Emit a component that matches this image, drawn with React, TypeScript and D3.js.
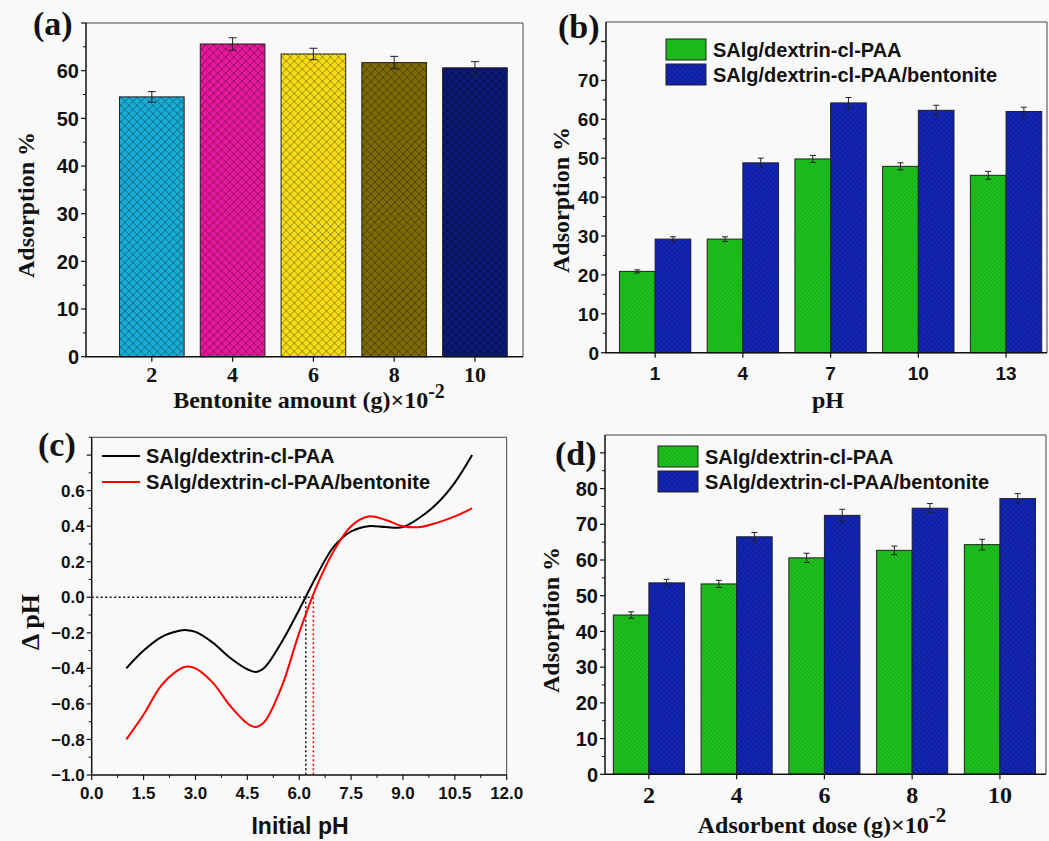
import React from "react";
import * as d3 from "d3";

const SANS = "'Liberation Sans', Arial, sans-serif";
const SERIF = "'Liberation Serif', 'Times New Roman', serif";

// (a) bentonite amount
const amounts = [2, 4, 6, 8, 10];
const amountAdsorption = [54.5, 65.6, 63.5, 61.7, 60.6];
const amountError = [1.1, 1.3, 1.2, 1.3, 1.3];
const amountColors = ["#19acd6", "#e8189c", "#f8dc14", "#7c6b06", "#0b1a74"];

// (b) pH
const phLevels = [1, 4, 7, 10, 13];
const phPlain = [20.9, 29.2, 49.8, 47.9, 45.6];
const phPlainError = [0.4, 0.6, 0.9, 0.9, 1.0];
const phBento = [29.2, 48.8, 64.2, 62.3, 62.0];
const phBentoError = [0.6, 1.2, 1.4, 1.3, 1.1];

// (c) pH drift / pzc
const drift = [1, 1.5, 2, 2.5, 2.75, 3, 3.5, 4, 4.5, 4.75, 5, 5.5, 6, 6.5, 7, 7.5, 8, 8.5, 9, 9.5, 10, 10.5, 11];
const driftPlain = [-0.4, -0.3, -0.225, -0.19, -0.185, -0.195, -0.255, -0.34, -0.405, -0.42, -0.395, -0.25, -0.07, 0.12, 0.285, 0.37, 0.4, 0.395, 0.395, 0.45, 0.53, 0.645, 0.8];
const driftBento = [-0.8, -0.66, -0.5, -0.41, -0.39, -0.4, -0.48, -0.61, -0.71, -0.73, -0.7, -0.5, -0.2, 0.06, 0.26, 0.4, 0.455, 0.435, 0.4, 0.395, 0.42, 0.455, 0.5];
const pzc = [6.19, 6.41];

// (d) adsorbent dose
const doses = [2, 4, 6, 8, 10];
const dosePlain = [44.6, 53.3, 60.6, 62.7, 64.3];
const dosePlainError = [0.9, 1.0, 1.3, 1.2, 1.5];
const doseBento = [53.6, 66.5, 72.5, 74.5, 77.2];
const doseBentoError = [1.0, 1.2, 1.7, 1.3, 1.4];

const seriesNames = ["SAlg/dextrin-cl-PAA", "SAlg/dextrin-cl-PAA/bentonite"];
const GREEN = "#1ec21e";
const BLUE = "#1426b6";

type Lin = d3.ScaleLinear<number, number>;

const Frame = ({ x, y }: { x: Lin; y: Lin }) => {
  const [l, r] = x.range();
  const [b, t] = y.range();
  return (
    <g>
      <path d={`M${l},${t}H${r}V${b}`} fill="none" stroke="#444" strokeWidth={1} />
      <path d={`M${l},${t}V${b}H${r}`} fill="none" stroke="#111" strokeWidth={1.5} />
    </g>
  );
};

const YTicks = ({ x, y, major, minor, labelled, fmt, size = 18 }: any) => {
  const l = x.range()[0];
  return (
    <g>
      {minor.map((v: number) => (
        <line key={"m" + v} x1={l - 3} x2={l} y1={y(v)} y2={y(v)} stroke="#111" />
      ))}
      {major.map((v: number) => (
        <line key={"M" + v} x1={l - 5} x2={l} y1={y(v)} y2={y(v)} stroke="#111" strokeWidth={1.2} />
      ))}
      {labelled.map((v: number) => (
        <text key={"t" + v} x={l - 7} y={y(v) + size * 0.36} textAnchor="end"
          fontFamily={SANS} fontWeight="bold" fontSize={size} fill="#111">
          {fmt(v)}
        </text>
      ))}
    </g>
  );
};

const XTicks = ({ x, y, major, minor = [], fmt, font, size, dy }: any) => {
  const b = y.range()[0];
  return (
    <g>
      {minor.map((v: number) => (
        <line key={"m" + v} x1={x(v)} x2={x(v)} y1={b} y2={b + 3} stroke="#111" />
      ))}
      {major.map((v: number) => (
        <line key={"M" + v} x1={x(v)} x2={x(v)} y1={b} y2={b + 5} stroke="#111" strokeWidth={1.2} />
      ))}
      {major.map((v: number) => (
        <text key={"t" + v} x={x(v)} y={b + dy} textAnchor="middle"
          fontFamily={font} fontWeight="bold" fontSize={size} fill="#111">
          {fmt(v)}
        </text>
      ))}
    </g>
  );
};

const YTitle = ({ cx, cy, text, size = 24 }: any) => (
  <text transform={`translate(${cx},${cy}) rotate(-90)`} textAnchor="middle"
    fontFamily={SERIF} fontWeight="bold" fontSize={size} fill="#111" dominantBaseline="middle">
    {text}
  </text>
);

const PanelTag = ({ x, y, t }: any) => (
  <text x={x} y={y} fontFamily={SERIF} fontWeight="bold" fontSize={34} fill="#111">{t}</text>
);

const ErrBar = ({ cx, y0, y1, w = 4 }: any) => (
  <g stroke="#222" strokeWidth={1}>
    <line x1={cx} x2={cx} y1={y0} y2={y1} />
    <line x1={cx - w} x2={cx + w} y1={y0} y2={y0} />
    <line x1={cx - w} x2={cx + w} y1={y1} y2={y1} />
  </g>
);

const HatchBar = ({ x, y, w, h, color, pattern }: any) => (
  <g>
    <rect x={x} y={y} width={w} height={h} fill={color} />
    <rect x={x} y={y} width={w} height={h} fill={`url(#${pattern})`} stroke="#222" strokeWidth={1} />
  </g>
);

const Legend = ({ x, y, gap, pats }: any) => (
  <g>
    {seriesNames.map((n, i) => (
      <g key={n}>
        <HatchBar x={x} y={y + i * gap} w={40} h={21} color={i === 0 ? GREEN : BLUE} pattern={pats[i]} />
        <text x={x + 47} y={y + i * gap + 18} fontFamily={SANS} fontWeight="bold" fontSize={20} fill="#111">{n}</text>
      </g>
    ))}
  </g>
);

function PanelA() {
  const x = d3.scaleLinear().domain([0.37, 11.19]).range([86, 523]);
  const y = d3.scaleLinear().domain([0, 70]).range([356.7, 23]);
  const hw = 0.8;
  return (
    <g>
      {amounts.map((c, i) => (
        <g key={c}>
          <HatchBar x={x(c - hw)} y={y(amountAdsorption[i])} w={x(c + hw) - x(c - hw)}
            h={y(0) - y(amountAdsorption[i])} color={amountColors[i]} pattern="crossA" />
          <ErrBar cx={x(c)} y0={y(amountAdsorption[i] - amountError[i])} y1={y(amountAdsorption[i] + amountError[i])} />
        </g>
      ))}
      <Frame x={x} y={y} />
      <YTicks x={x} y={y} major={d3.range(0, 71, 10)} minor={d3.range(5, 70, 10)}
        labelled={d3.range(0, 61, 10)} fmt={(v: number) => v} size={20} />
      <XTicks x={x} y={y} major={amounts} fmt={(v: number) => v} font={SERIF} size={22} dy={25} />
      <YTitle cx={28} cy={205} text="Adsorption %" />
      <text x={309} y={408} textAnchor="middle" fontFamily={SERIF} fontWeight="bold" fontSize={24} fill="#111">
        Bentonite amount (g)×10<tspan dy={-10} fontSize={20}>-2</tspan>
      </text>
      <PanelTag x={33} y={35} t="(a)" />
    </g>
  );
}

function GroupedPanel({ x, y, cats, plain, plainErr, bento, bentoErr, hw, plainPat }: any) {
  return (
    <g>
      {cats.map((c: number, i: number) => (
        <g key={c}>
          <HatchBar x={x(c - hw)} y={y(plain[i])} w={x(c) - x(c - hw)} h={y(0) - y(plain[i])}
            color={GREEN} pattern={plainPat} />
          <HatchBar x={x(c)} y={y(bento[i])} w={x(c + hw) - x(c)} h={y(0) - y(bento[i])}
            color={BLUE} pattern="crossB" />
          <ErrBar cx={x(c - hw / 2)} y0={y(plain[i] - plainErr[i])} y1={y(plain[i] + plainErr[i])} w={3} />
          <ErrBar cx={x(c + hw / 2)} y0={y(bento[i] - bentoErr[i])} y1={y(bento[i] + bentoErr[i])} w={3} />
        </g>
      ))}
      <Frame x={x} y={y} />
    </g>
  );
}

function PanelB() {
  const x = d3.scaleLinear().domain([-0.68, 14.4]).range([606, 1047]);
  const y = d3.scaleLinear().domain([0, 85]).range([352.7, 22]);
  return (
    <g>
      <GroupedPanel x={x} y={y} cats={phLevels} plain={phPlain} plainErr={phPlainError}
        bento={phBento} bentoErr={phBentoError} hw={1.22} plainPat="hatchB" />
      <YTicks x={x} y={y} major={d3.range(0, 81, 10)} minor={d3.range(5, 85, 10)}
        labelled={d3.range(0, 71, 10)} fmt={(v: number) => v} size={19} />
      <XTicks x={x} y={y} major={phLevels} fmt={(v: number) => v} font={SANS} size={19} dy={27} />
      <YTitle cx={563} cy={200} text="Adsorption %" />
      <text x={828} y={408} textAnchor="middle" fontFamily={SERIF} fontWeight="bold" fontSize={24} fill="#111">pH</text>
      <Legend x={666} y={39} gap={25} pats={["hatchB", "crossB"]} />
      <PanelTag x={558} y={38} t="(b)" />
    </g>
  );
}

function PanelC() {
  const x = d3.scaleLinear().domain([0, 12]).range([91.7, 506.7]);
  const y = d3.scaleLinear().domain([-1, 0.9]).range([775, 437.3]);
  const line = (vals: number[]) =>
    d3.line<number>().x((_, i) => x(drift[i])).y((v) => y(v)).curve(d3.curveCatmullRom.alpha(0.5))(vals) || "";
  const fmt = d3.format(".1f");
  return (
    <g>
      <line x1={x(0)} x2={x(pzc[1])} y1={y(0)} y2={y(0)} stroke="#111" strokeWidth={1.5} strokeDasharray="2,2.5" />
      <line x1={x(pzc[0])} x2={x(pzc[0])} y1={y(0)} y2={y(-1)} stroke="#111" strokeWidth={1.5} strokeDasharray="2,2.5" />
      <line x1={x(pzc[1])} x2={x(pzc[1])} y1={y(0)} y2={y(-1)} stroke="#f00" strokeWidth={1.5} strokeDasharray="2,2.5" />
      <path d={line(driftPlain)} fill="none" stroke="#000" strokeWidth={2} />
      <path d={line(driftBento)} fill="none" stroke="#f00" strokeWidth={2} />
      <Frame x={x} y={y} />
      <YTicks x={x} y={y} major={d3.range(-10, 9, 2).map((v) => v / 10)}
        minor={d3.range(-9, 10, 2).map((v) => v / 10)}
        labelled={d3.range(-10, 7, 2).map((v) => v / 10)} fmt={fmt} size={17} />
      <XTicks x={x} y={y} major={d3.range(0, 12.1, 1.5)} minor={d3.range(0.75, 12, 1.5)}
        fmt={fmt} font={SANS} size={17} dy={24} />
      <YTitle cx={33} cy={622} text="Δ pH" size={26} />
      <text x={300} y={834} textAnchor="middle" fontFamily={SANS} fontWeight="bold" fontSize={23} fill="#111">Initial pH</text>
      {seriesNames.map((n, i) => (
        <g key={n}>
          <line x1={102} x2={140} y1={456 + i * 26} y2={456 + i * 26} stroke={i === 0 ? "#000" : "#f00"} strokeWidth={2} />
          <text x={146} y={463 + i * 26} fontFamily={SANS} fontWeight="bold" fontSize={20} fill="#111">{n}</text>
        </g>
      ))}
      <PanelTag x={38} y={456} t="(c)" />
    </g>
  );
}

function PanelD() {
  const x = d3.scaleLinear().domain([1, 11.05]).range([605, 1046]);
  const y = d3.scaleLinear().domain([0, 95]).range([774.3, 435]);
  return (
    <g>
      <GroupedPanel x={x} y={y} cats={doses} plain={dosePlain} plainErr={dosePlainError}
        bento={doseBento} bentoErr={doseBentoError} hw={0.81} plainPat="hatchD" />
      <YTicks x={x} y={y} major={d3.range(0, 91, 10)} minor={d3.range(5, 95, 10)}
        labelled={d3.range(0, 81, 10)} fmt={(v: number) => v} size={20} />
      <XTicks x={x} y={y} major={doses} fmt={(v: number) => v} font={SERIF} size={24} dy={29} />
      <YTitle cx={553} cy={620} text="Adsorption %" />
      <text x={822} y={833} textAnchor="middle" fontFamily={SERIF} fontWeight="bold" fontSize={24} fill="#111">
        Adsorbent dose (g)×10<tspan dy={-11} fontSize={21}>-2</tspan>
      </text>
      <Legend x={658} y={446} gap={25} pats={["hatchD", "crossB"]} />
      <PanelTag x={555} y={465} t="(d)" />
    </g>
  );
}

export default function App() {
  return (
    <svg width={1049} height={841} style={{ position: "absolute", left: 0, top: 0, display: "block" }}>
      <defs>
        <pattern id="crossA" width={5.7} height={5.7} patternUnits="userSpaceOnUse" patternTransform="rotate(45)">
          <path d="M0,0H5.7M0,0V5.7" stroke="#000" strokeOpacity={0.55} strokeWidth={1} />
        </pattern>
        <pattern id="crossB" width={3.6} height={3.6} patternUnits="userSpaceOnUse" patternTransform="rotate(45)">
          <path d="M0,0H3.6M0,0V3.6" stroke="#000a50" strokeOpacity={0.5} strokeWidth={0.9} />
        </pattern>
        <pattern id="hatchB" width={2.9} height={2.9} patternUnits="userSpaceOnUse" patternTransform="rotate(45)">
          <path d="M0,0V2.9" stroke="#0a5a0a" strokeOpacity={0.55} strokeWidth={0.9} />
        </pattern>
        <pattern id="hatchD" width={2.9} height={2.9} patternUnits="userSpaceOnUse" patternTransform="rotate(-45)">
          <path d="M0,0V2.9" stroke="#0a5a0a" strokeOpacity={0.55} strokeWidth={0.9} />
        </pattern>
      </defs>
      <rect width={1049} height={841} fill="#f9f9f9" />
      <PanelA />
      <PanelB />
      <PanelC />
      <PanelD />
    </svg>
  );
}
